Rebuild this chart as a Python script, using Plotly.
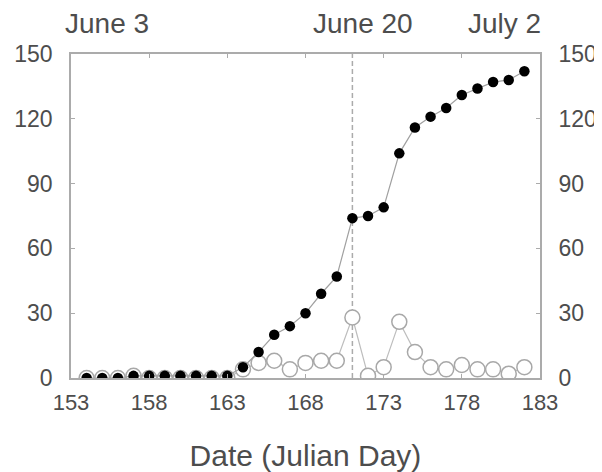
import plotly.graph_objects as go

days = list(range(154, 183))
daily = [0, 0, 0, 1, 0, 0, 0, 0, 0, 0,
         4, 7, 8, 4, 7, 8, 8, 28, 1, 5,
         26, 12, 5, 4, 6, 4, 4, 2, 5]
cumulative = [0, 0, 0, 1, 1, 1, 1, 1, 1, 1,
              5, 12, 20, 24, 30, 39, 47, 74, 75, 79,
              104, 116, 121, 125, 131, 134, 137, 138, 142]

x_ticks = [153, 158, 163, 168, 173, 178, 183]
y_ticks = [0, 30, 60, 90, 120, 150]
date_labels = ["June 3", "June 20", "July 2"]
date_label_x = [155.3, 171.7, 180.7]
marker_day = 171

AX = "#ababab"
TXT = "#4d4d4d"
FONT = "Liberation Sans, Arial, sans-serif"

fig = go.Figure()
fig.add_trace(go.Scatter(
    x=days, y=daily, mode="lines+markers",
    line=dict(color="#bdbdbd", width=1.2),
    marker=dict(symbol="circle", size=15, color="white",
                line=dict(color="#a8a8a8", width=1.5)),
    showlegend=False))
fig.add_trace(go.Scatter(
    x=days, y=cumulative, mode="lines+markers",
    line=dict(color="#a0a0a0", width=1.2),
    marker=dict(symbol="circle", size=10.5, color="black",
                line=dict(width=0)),
    showlegend=False))
fig.add_trace(go.Scatter(x=[days[0]], y=[0], yaxis="y2", mode="markers",
                         marker=dict(opacity=0), showlegend=False,
                         hoverinfo="skip"))

fig.add_shape(type="line", x0=marker_day, x1=marker_day, y0=0, y1=150,
              xref="x", yref="y",
              line=dict(color="#ababab", width=1.5, dash="5px,3px"),
              layer="below")

for t, xv in zip(date_labels, date_label_x):
    fig.add_annotation(x=xv, y=1, xref="x", yref="paper", yanchor="bottom",
                       yshift=13, text=t, showarrow=False,
                       font=dict(family=FONT, size=28, color=TXT))

axis_common = dict(showline=True, linecolor=AX, linewidth=1.8, ticks="inside",
                   ticklen=4, tickcolor=AX, showgrid=False, zeroline=False,
                   automargin=False)
tick_font = dict(family=FONT, size=23, color=TXT)

# page body has an 8px default margin, so the figure is sized to fit
fig.update_layout(
    width=594, height=464,
    margin=dict(l=63, r=62, t=46, b=94),
    paper_bgcolor="white", plot_bgcolor="white",
    xaxis=dict(range=[153, 183], tickvals=x_ticks, mirror="ticks",
               ticklabelstandoff=4,
               tickfont=dict(family=FONT, size=22, color=TXT),
               title=dict(text="Date (Julian Day)", standoff=42,
                          font=dict(family=FONT, size=30, color=TXT)),
               **axis_common),
    yaxis=dict(range=[0, 150], tickvals=y_ticks, ticklabelstandoff=12,
               tickfont=tick_font, **axis_common),
    yaxis2=dict(range=[0, 150], tickvals=y_ticks, overlaying="y", side="right",
                anchor="x", ticklabelstandoff=12, tickfont=tick_font,
                **axis_common),
)

fig.write_html("out.html")
